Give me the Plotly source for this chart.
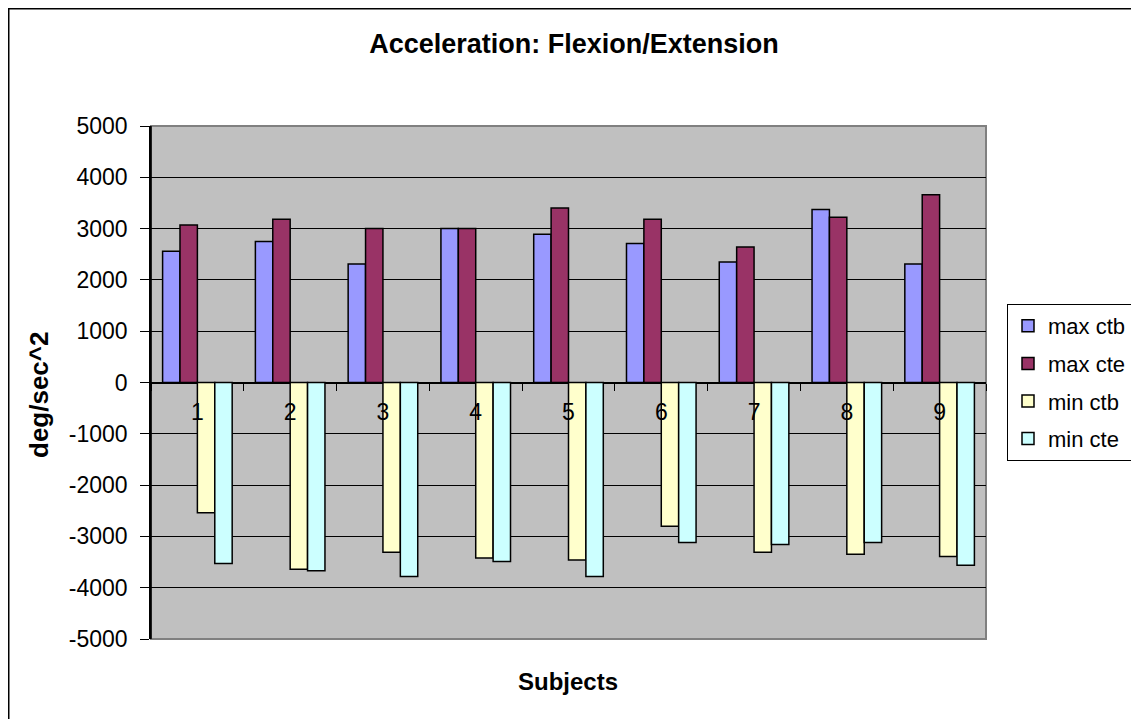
import plotly.graph_objects as go

subjects = ["1", "2", "3", "4", "5", "6", "7", "8", "9"]
max_ctb = [2560, 2750, 2310, 3000, 2890, 2710, 2350, 3370, 2310]
max_cte = [3070, 3180, 3000, 3000, 3400, 3180, 2640, 3220, 3660]
min_ctb = [-2540, -3640, -3310, -3420, -3460, -2800, -3310, -3350, -3390]
min_cte = [-3530, -3670, -3780, -3490, -3780, -3120, -3160, -3120, -3560]
y_tick_vals = [5000, 4000, 3000, 2000, 1000, 0, -1000, -2000, -3000, -4000, -5000]
y_tick_text = ["5000", "4000", "3000", "2000", "1000", "0",
               "-1000", "-2000", "-3000", "-4000", "-5000"]

series = [
    ("max ctb", max_ctb, "#9999FF"),
    ("max cte", max_cte, "#993366"),
    ("min ctb", min_ctb, "#FFFFCC"),
    ("min cte", min_cte, "#CCFFFF"),
]

FONT = "Arial, Liberation Sans, sans-serif"

fig = go.Figure()
for name, vals, col in series:
    fig.add_trace(go.Bar(
        x=subjects, y=vals, name=name, legendgroup=name,
        marker=dict(color=col, line=dict(color="black", width=1.5)),
    ))

# page offset caused by the default 8px body margin
OFF = 8
PW, PH = 1139, 719
W, H = PW - OFF, PH - OFF
# plot area in page coordinates
L, R, T, B = 151, 986, 126, 639
pw, ph = R - L, B - T

def px(x):
    return (x - L) / pw

def py(y):
    return (B - y) / ph

fig.update_layout(
    width=W, height=H,
    margin=dict(l=L - OFF, r=PW - R, t=T - OFF, b=PH - B, pad=0, autoexpand=False),
    paper_bgcolor="white",
    plot_bgcolor="#C0C0C0",
    barmode="group",
    bargap=0.25,
    bargroupgap=0,
    font=dict(family=FONT, color="black", size=22),
    title=dict(
        text="<b>Acceleration: Flexion/Extension</b>",
        x=(574 - OFF) / W, xanchor="center", y=1 - (44 - OFF) / H, yanchor="middle",
        font=dict(size=27, family=FONT, color="black"),
    ),
    legend=dict(
        x=px(1007), y=py(304), xanchor="left", yanchor="top",
        bgcolor="white", bordercolor="black", borderwidth=1,
        font=dict(size=22, family=FONT, color="black"),
        traceorder="grouped", tracegroupgap=6,
    ),
    xaxis=dict(
        type="category",
        anchor="free", position=0.5,
        showline=False, showgrid=False, zeroline=False,
        ticks="outside", tickson="boundaries", ticklen=7,
        tickcolor="black", tickwidth=1,
        ticklabelstandoff=13,
        automargin=False,
        tickfont=dict(size=23, family=FONT, color="black"),
    ),
    yaxis=dict(
        range=[-5000, 5000],
        tickmode="array", tickvals=y_tick_vals, ticktext=y_tick_text,
        showgrid=True, gridcolor="black", gridwidth=1,
        zeroline=True, zerolinecolor="black", zerolinewidth=1.5,
        showline=True, linecolor="black", linewidth=1.5,
        ticks="outside", ticklen=9, tickcolor="black",
        ticklabelstandoff=8,
        automargin=False,
        tickfont=dict(size=23, family=FONT, color="black"),
    ),
    shapes=[
        dict(type="rect", xref="paper", yref="paper", x0=0, x1=1, y0=0, y1=1,
             line=dict(color="#808080", width=2), layer="below"),
        dict(type="line", xref="paper", yref="paper", x0=0, x1=0, y0=0, y1=1,
             line=dict(color="black", width=1.5)),
        dict(type="rect", xref="paper", yref="paper",
             x0=px(OFF + 0.75), x1=px(1136), y0=py(OFF + 0.75), y1=py(724),
             line=dict(color="black", width=1.5)),
    ],
    annotations=[
        dict(text="<b>Subjects</b>", xref="paper", yref="paper",
             x=px(568), y=py(681), xanchor="center", yanchor="middle",
             showarrow=False, font=dict(size=24, family=FONT, color="black")),
        dict(text="<b>deg/sec^2</b>", xref="paper", yref="paper",
             x=px(39), y=py(395), xanchor="center", yanchor="middle",
             textangle=-90,
             showarrow=False, font=dict(size=26, family=FONT, color="black")),
    ],
)

fig.write_html("out.html")
